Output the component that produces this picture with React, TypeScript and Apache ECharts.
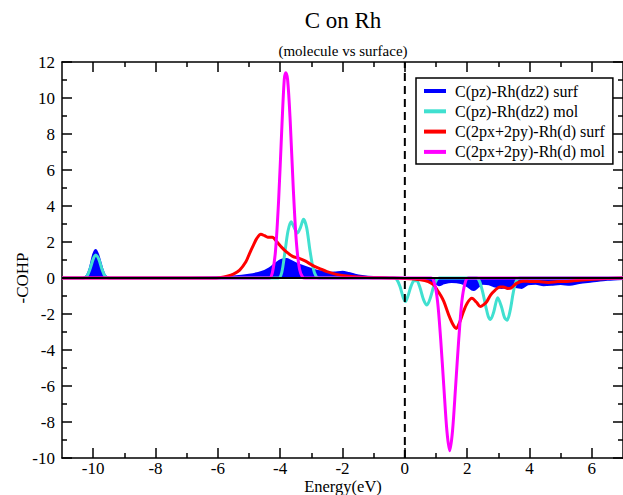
import React, { useEffect, useRef } from "react";
import * as echarts from "echarts";

const TITLE = "C on Rh";
const SUBTITLE = "(molecule vs surface)";
const X_NAME = "Energy(eV)";
const Y_NAME = "-COHP";
const SERIES_NAMES = [
  "C(pz)-Rh(dz2) surf",
  "C(pz)-Rh(dz2) mol",
  "C(2px+2py)-Rh(d) surf",
  "C(2px+2py)-Rh(d) mol",
];
const SERIES_COLORS = ["#0000ff", "#40e0d0", "#ff0000", "#ff00ff"];
const X_MIN = -11;
const X_MAX = 7;
const Y_MIN = -10;
const Y_MAX = 12;
const X_MAJOR = [-10, -8, -6, -4, -2, 0, 2, 4, 6];
const X_MINOR = [-9, -7, -5, -3, -1, 1, 3, 5];

const BLUE_SURF: [number, number][] = [
  [-11, 0], [-10.35, 0], [-10.2, 0.15], [-10.1, 0.6], [-10.0, 1.3], [-9.92, 1.56],
  [-9.84, 1.3], [-9.72, 0.6], [-9.62, 0.15], [-9.48, 0], [-7.5, 0], [-6.5, 0.02],
  [-6, 0.04], [-5.5, 0.08], [-5, 0.18], [-4.6, 0.33], [-4.35, 0.54], [-4.15, 0.8],
  [-3.97, 1.0], [-3.8, 1.05], [-3.65, 0.95], [-3.49, 0.81], [-3.3, 0.68], [-3.07, 0.54],
  [-2.85, 0.42], [-2.65, 0.35], [-2.45, 0.28], [-2.25, 0.3], [-2.0, 0.35], [-1.8, 0.28],
  [-1.6, 0.18], [-1.37, 0.11], [-1.0, 0.05], [-0.5, 0.02], [0, 0], [0.5, -0.05],
  [0.8, -0.15], [1.0, -0.3], [1.1, -0.4], [1.25, -0.3], [1.5, -0.22], [1.8, -0.28],
  [2.0, -0.45], [2.2, -0.67], [2.35, -0.5], [2.5, -0.32], [2.7, -0.35], [2.9, -0.48],
  [3.1, -0.55], [3.3, -0.52], [3.55, -0.5], [3.75, -0.55], [3.95, -0.35], [4.2, -0.32],
  [4.45, -0.4], [4.7, -0.38], [5.0, -0.33], [5.3, -0.38], [5.6, -0.28], [6.0, -0.2],
  [6.5, -0.1], [7, -0.05],
];

const TURQ_MOL: [number, number][] = [
  [-11, 0], [-10.3, 0], [-10.2, 0.1], [-10.1, 0.5], [-10.0, 1.05], [-9.92, 1.28],
  [-9.82, 1.05], [-9.72, 0.5], [-9.62, 0.1], [-9.5, 0], [-4.05, 0], [-3.95, 0.3],
  [-3.85, 1.4], [-3.75, 2.6], [-3.65, 3.13], [-3.55, 2.8], [-3.45, 2.5], [-3.35, 2.8],
  [-3.25, 3.26], [-3.15, 2.8], [-3.05, 1.6], [-2.95, 0.6], [-2.85, 0.1], [-2.75, 0],
  [-0.35, 0], [-0.25, -0.1], [-0.15, -0.5], [-0.05, -1.1], [0.02, -1.31], [0.1, -1.0],
  [0.2, -0.45], [0.3, -0.15], [0.38, -0.15], [0.48, -0.5], [0.6, -1.2], [0.71, -1.5],
  [0.82, -1.1], [0.92, -0.5], [1.02, -0.1], [1.1, 0], [2.3, 0], [2.4, -0.2],
  [2.5, -0.8], [2.6, -1.6], [2.68, -2.15], [2.75, -2.3], [2.85, -1.9], [2.98, -1.1],
  [3.1, -1.6], [3.2, -2.2], [3.28, -2.35], [3.38, -1.8], [3.48, -0.8], [3.58, -0.15],
  [3.7, 0], [7, 0],
];

const RED_SURF: [number, number][] = [
  [-11, 0], [-6.2, 0], [-5.9, 0.03], [-5.7, 0.1], [-5.5, 0.22], [-5.3, 0.44],
  [-5.1, 0.9], [-4.98, 1.37], [-4.85, 1.85], [-4.75, 2.2], [-4.62, 2.43], [-4.5, 2.35],
  [-4.4, 2.27], [-4.25, 2.27], [-4.1, 2.0], [-3.95, 1.7], [-3.8, 1.45], [-3.6, 1.2],
  [-3.39, 1.09], [-3.2, 0.95], [-3.07, 0.81], [-2.9, 0.65], [-2.75, 0.54], [-2.5, 0.35],
  [-2.2, 0.2], [-1.8, 0.1], [-1.2, 0.03], [-0.5, 0], [0, -0.03], [0.5, -0.1],
  [0.75, -0.2], [0.93, -0.39], [1.05, -0.7], [1.14, -0.94], [1.25, -1.3], [1.41, -2.06],
  [1.55, -2.6], [1.65, -2.8], [1.75, -2.5], [1.88, -1.87], [2.0, -1.4], [2.15, -1.13],
  [2.3, -1.35], [2.42, -1.59], [2.55, -1.45], [2.63, -1.31], [2.75, -0.95], [2.9, -0.67],
  [3.05, -0.5], [3.16, -0.5], [3.3, -0.58], [3.4, -0.56], [3.58, -0.3], [3.8, -0.18],
  [4.0, -0.19], [4.3, -0.2], [4.6, -0.25], [4.9, -0.2], [5.2, -0.19], [5.6, -0.12],
  [6.2, -0.05], [7, 0],
];

const MAGENTA_MOL: [number, number][] = [
  [-11, 0], [-4.35, 0], [-4.25, 0.3], [-4.15, 1.5], [-4.05, 4.3], [-3.95, 8.2],
  [-3.87, 11.0], [-3.82, 11.4], [-3.76, 11.0], [-3.68, 8.8], [-3.58, 5.0], [-3.48, 2.0],
  [-3.38, 0.5], [-3.28, 0.05], [-3.2, 0], [0.85, 0], [0.95, -0.3], [1.05, -1.3],
  [1.15, -3.4], [1.25, -6.0], [1.35, -8.5], [1.44, -9.6], [1.53, -8.5], [1.63, -6.0],
  [1.73, -3.4], [1.83, -1.3], [1.93, -0.3], [2.03, 0], [7, 0],
];

const SERIES_DATA = [BLUE_SURF, TURQ_MOL, RED_SURF, MAGENTA_MOL];

const FONT = "Liberation Serif";

export default function App() {
  const ref = useRef<HTMLDivElement>(null);
  useEffect(() => {
    if (!ref.current) return;
    const chart = echarts.init(ref.current, null, { renderer: "svg" });
    const axisLine = { show: true, onZero: false, lineStyle: { color: "#000", width: 1.5 } };
    const mkX = (pos: string, major: boolean, labels: boolean) => ({
      type: "value",
      min: X_MIN,
      max: X_MAX,
      position: pos,
      axisLine: major ? axisLine : { show: false, onZero: false },
      axisTick: {
        show: true,
        inside: true,
        length: major ? 10 : 5,
        customValues: major ? X_MAJOR : X_MINOR,
        lineStyle: { color: "#000", width: 1.5 },
      },
      axisLabel: labels
        ? { show: true, customValues: X_MAJOR, color: "#000", fontFamily: FONT, fontSize: 17, margin: 2 }
        : { show: false },
      splitLine: { show: false },
    });
    const mkY = (pos: string, labels: boolean) => ({
      type: "value",
      min: Y_MIN,
      max: Y_MAX,
      interval: 2,
      position: pos,
      axisLine,
      axisTick: { show: true, inside: true, length: 10, lineStyle: { color: "#000", width: 1.5 } },
      minorTick: { show: true, splitNumber: 2, length: 5, lineStyle: { color: "#000", width: 1.5 } },
      axisLabel: labels
        ? { show: true, color: "#000", fontFamily: FONT, fontSize: 17, margin: 7 }
        : { show: false },
      splitLine: { show: false },
      minorSplitLine: { show: false },
    });
    const dataSeries = SERIES_DATA.map((d, i) => ({
      name: SERIES_NAMES[i],
      type: "line",
      data: d,
      smooth: 0.3,
      showSymbol: false,
      symbol: "none",
      color: SERIES_COLORS[i],
      lineStyle: { color: SERIES_COLORS[i], width: i === 0 ? 2 : 3 },
      areaStyle: i === 0 ? { color: SERIES_COLORS[0], opacity: 1 } : undefined,
      z: 2 + i,
    }));
    const textStyle = (size: number) => ({
      fill: "#000",
      fontFamily: FONT,
      fontSize: size,
      align: "center",
      verticalAlign: "middle",
    });
    chart.setOption({
      animation: false,
      title: {
        text: TITLE,
        subtext: SUBTITLE,
        left: 343,
        top: 9,
        padding: 0,
        textAlign: "center",
        itemGap: 11,
        textStyle: { color: "#000", fontFamily: FONT, fontSize: 23, fontWeight: "normal", lineHeight: 23 },
        subtextStyle: { color: "#000", fontFamily: FONT, fontSize: 15, lineHeight: 15 },
      },
      grid: { left: 62, top: 62, width: 563, height: 396, containLabel: false },
      xAxis: [mkX("bottom", true, true), mkX("bottom", false, false), mkX("top", true, false), mkX("top", false, false)],
      yAxis: [mkY("left", true), mkY("right", false)],
      legend: {
        data: SERIES_NAMES,
        orient: "vertical",
        left: 416,
        top: 78,
        icon: "rect",
        itemWidth: 22,
        itemHeight: 4,
        itemGap: 4.3,
        padding: [5, 8, 4, 8],
        backgroundColor: "#fff",
        borderColor: "#000",
        borderWidth: 1.5,
        borderRadius: 0,
        textStyle: { color: "#000", fontFamily: FONT, fontSize: 16, lineHeight: 16, padding: [0, 0, 0, 4] },
      },
      series: [
        ...dataSeries,
        {
          name: "zero",
          type: "line",
          data: [[X_MIN, 0], [X_MAX, 0]],
          symbol: "none",
          silent: true,
          lineStyle: { color: "#000", width: 2 },
          z: 10,
        },
        {
          name: "fermi",
          type: "line",
          data: [[0, Y_MIN], [0, Y_MAX]],
          symbol: "none",
          silent: true,
          lineStyle: { color: "#000", width: 2, type: [8, 5] },
          z: 10,
        },
      ],
      graphic: [
        { type: "text", x: 22, y: 278, rotation: Math.PI / 2, style: { text: Y_NAME, ...textStyle(17) } },
        { type: "text", x: 343, y: 486.7, style: { text: X_NAME, ...textStyle(16.5) } },
      ],
    });
    return () => chart.dispose();
  }, []);
  return (
    <div
      ref={ref}
      style={{ position: "fixed", left: 0, top: 0, width: 623, height: 495, background: "#fff", overflow: "hidden" }}
    />
  );
}
